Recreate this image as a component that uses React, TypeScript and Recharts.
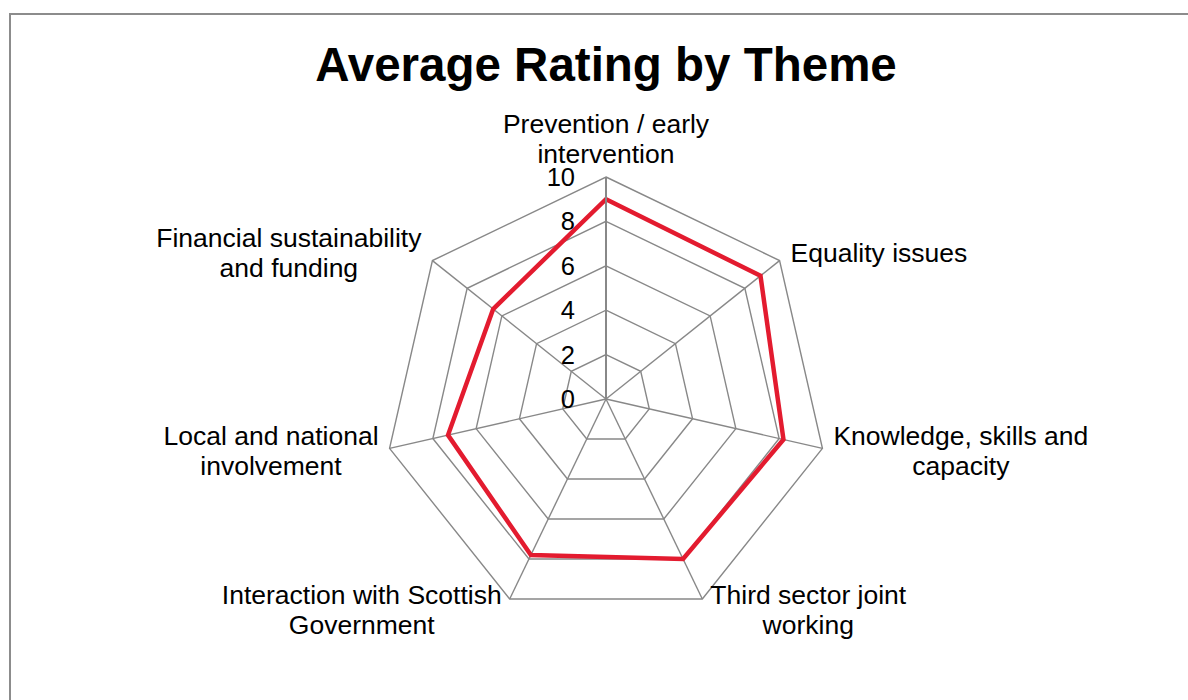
import React from "react"
import { RadarChart, Radar, PolarGrid, PolarAngleAxis, PolarRadiusAxis } from "recharts"

const themes = [
  "Prevention / early intervention",
  "Equality issues",
  "Knowledge, skills and capacity",
  "Third sector joint working",
  "Interaction with Scottish Government",
  "Local and national involvement",
  "Financial sustainability and funding",
]
const themeLines = [
  ["Prevention / early", "intervention"],
  ["Equality issues"],
  ["Knowledge, skills and", "capacity"],
  ["Third sector joint", "working"],
  ["Interaction with Scottish", "Government"],
  ["Local and national", "involvement"],
  ["Financial sustainability", "and funding"],
]
const ratings = [9.0, 8.9, 8.2, 8.0, 7.8, 7.3, 6.5]
const ratingTicks = [0, 2, 4, 6, 8, 10]

const data = themes.map((theme, i) => ({ theme, rating: ratings[i] }))

const CX = 606
const CY = 399
const R = 222
const FONT = "'Liberation Sans', Arial, sans-serif"
const LABEL_SIZE = 26.5
const LINE_H = 30

let ctx: CanvasRenderingContext2D | null = null
function textWidth(s: string) {
  if (!ctx) ctx = document.createElement("canvas").getContext("2d")
  if (!ctx) return s.length * LABEL_SIZE * 0.5
  ctx.font = `${LABEL_SIZE}px ${FONT}`
  return ctx.measureText(s).width
}

function AngleTick(props: any) {
  const { payload, index } = props
  const lines = themeLines[index] ?? [String(payload.value)]
  const rad = (payload.coordinate * Math.PI) / 180
  const cos = Math.cos(rad)
  const sin = Math.sin(rad)
  const vx = CX + R * cos
  const vy = CY - R * sin
  let xc = vx
  let firstBase: number
  if (Math.abs(cos) < 0.01) {
    firstBase = vy - 14 - (lines.length - 1) * LINE_H
  } else {
    const w = Math.max(...lines.map(textWidth))
    const gap = sin < -0.5 ? 8 : 11
    xc = cos > 0 ? vx + gap + w / 2 : vx - gap - w / 2
    const yc = vy - sin * 12
    firstBase = yc - ((lines.length - 1) * LINE_H) / 2 + 9
  }
  return (
    <text fontFamily={FONT} fontSize={LABEL_SIZE} fill="#000" textAnchor="middle">
      {lines.map((l, i) => (
        <tspan key={i} x={xc} y={firstBase + i * LINE_H}>
          {l}
        </tspan>
      ))}
    </text>
  )
}

function RadiusTick(props: any) {
  const { x, y, payload } = props
  return (
    <text x={x - 31} y={y} dy="0.35em" textAnchor="end" fontFamily={FONT} fontSize={25.5} fill="#000">
      {payload.value}
    </text>
  )
}

export default function App() {
  return (
    <div style={{ position: "relative", width: 1188, height: 700, overflow: "hidden", background: "#fff" }}>
      <style>{`body{margin:0}`}</style>
      <div
        style={{
          position: "absolute",
          left: 9,
          top: 13,
          width: 1300,
          height: 800,
          border: "2px solid #8c8c8c",
        }}
      />
      <div style={{ position: "absolute", left: 0, top: 0 }}>
        <RadarChart width={1188} height={700} data={data} cx={CX} cy={CY} outerRadius={R}>
          <PolarGrid gridType="polygon" stroke="#888" strokeWidth={1.4} />
          <PolarAngleAxis dataKey="theme" tick={AngleTick} tickLine={false} axisLine={false} />
          <PolarRadiusAxis
            angle={90}
            domain={[0, 10]}
            ticks={ratingTicks as any}
            tickCount={6}
            tick={RadiusTick}
            tickLine={false}
            axisLine={{ stroke: "#888", strokeWidth: 2 }}
          />
          <Radar
            dataKey="rating"
            stroke="#e31b2f"
            strokeWidth={4.5}
            fill="none"
            fillOpacity={0}
            dot={false}
            isAnimationActive={false}
          />
        </RadarChart>
      </div>
      <svg width={1188} height={100} style={{ position: "absolute", left: 0, top: 0, pointerEvents: "none" }}>
        <text x={606} y={81} textAnchor="middle" fontFamily={FONT} fontWeight="bold" fontSize={47.5} fill="#000">
          Average Rating by Theme
        </text>
      </svg>
    </div>
  )
}
